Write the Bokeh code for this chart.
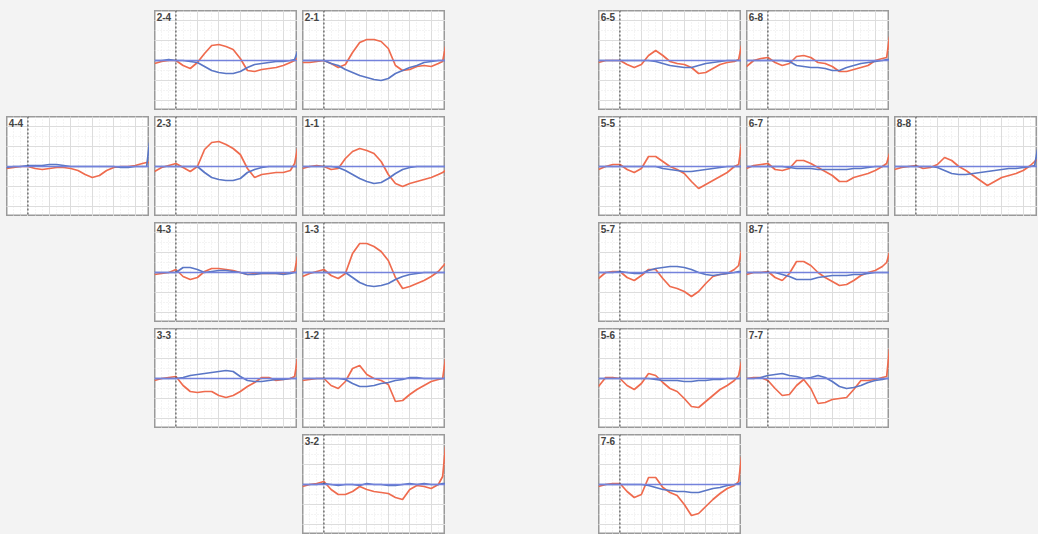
from bokeh.plotting import figure
from bokeh.layouts import row, column
from bokeh.models import Spacer, Span, Label, SingleIntervalTicker, GlobalInlineStyleSheet
from bokeh.embed import file_html
from bokeh.resources import INLINE

# shared sample positions (percent of panel width)
X = [0, 5, 10, 15, 20, 25, 30, 35, 40, 45, 50, 55, 60, 65, 70, 75, 80, 85, 90, 95, 98, 100]

# panel arrangement (None = empty cell)
LAYOUT = [
    [None, "2-4", "2-1", None, "6-5", "6-8"],
    ["4-4", "2-3", "1-1", None, "5-5", "6-7", "8-8"],
    [None, "4-3", "1-3", None, "5-7", "8-7"],
    [None, "3-3", "1-2", None, "5-6", "7-7"],
    [None, None, "3-2", None, "7-6"],
]

red_2_4 = [-3, -1, 0, 0, -5, -8, -2, 7, 15, 16, 14, 11, 2, -10, -11, -9, -8, -7, -5, -2, 0, 2]
blue_2_4 = [0, 0, 1, 0, 0, -1, -2, -6, -10, -12, -13, -13, -11, -7, -4, -3, -2, -1, -1, 0, 1, 9]
red_2_1 = [-2, -2, -1, 0, -3, -7, -4, 8, 18, 21, 21, 19, 12, -5, -10, -9, -6, -5, -6, -3, -1, 14]
blue_2_1 = [0, 0, 0, 0, -3, -5, -9, -12, -15, -17, -19, -20, -18, -13, -10, -7, -5, -2, -1, 0, 0, 0]
red_4_4 = [-2, -1, 0, 0, -2, -3, -2, -1, -1, -2, -4, -8, -11, -9, -4, -1, 0, 0, 1, 3, 4, 4]
blue_4_4 = [-1, 0, 0, 1, 1, 1, 2, 2, 1, 0, 0, 0, 0, 0, 0, 0, -1, -1, 0, 0, 0, 24]
red_2_3 = [-5, -1, 1, 3, -1, -5, 0, 17, 24, 25, 22, 18, 12, -2, -11, -8, -7, -6, -6, -4, 3, 18]
blue_2_3 = [0, 0, 0, 0, 0, 0, 0, -6, -11, -13, -14, -14, -12, -6, -3, -1, 0, 0, 0, 0, 0, 0]
red_1_1 = [-2, 0, 1, 0, -3, -2, 8, 15, 18, 16, 13, 5, -8, -17, -20, -17, -15, -13, -11, -8, -6, -4]
blue_1_1 = [0, 0, 0, 0, 0, -1, -4, -8, -12, -15, -17, -16, -12, -7, -3, -1, 0, 0, 0, 0, 0, 0]
red_4_3 = [-2, -1, 0, 3, -4, -7, -5, 1, 4, 4, 3, 2, 0, -2, -1, -1, -1, -1, -1, 0, 1, 16]
blue_4_3 = [0, 0, 0, 0, 5, 5, 3, 0, 1, 2, 2, 1, 0, -2, -2, -1, -1, -1, -2, -1, 0, 0]
red_1_3 = [-4, -1, 1, 3, -3, -6, -1, 19, 29, 29, 26, 21, 12, -5, -16, -14, -11, -8, -4, 1, 6, 9]
blue_1_3 = [0, 0, 0, 0, 0, 0, 0, -5, -10, -13, -14, -13, -11, -7, -4, -2, -1, 0, 0, 0, 0, 0]
red_3_3 = [-2, 0, 1, 2, -7, -13, -14, -13, -13, -17, -19, -17, -13, -8, -4, 1, 1, -2, -1, 0, 2, 20]
blue_3_3 = [0, 0, 0, 0, 1, 3, 4, 5, 6, 7, 8, 7, 2, -2, -3, -3, -2, -1, -1, 0, 0, 0]
red_1_2 = [-2, -1, 0, 0, -7, -10, -3, 10, 13, 4, 0, -2, -6, -23, -22, -16, -11, -7, -3, -1, 0, 20]
blue_1_2 = [0, 0, 0, 0, 0, 0, -1, -5, -8, -8, -7, -5, -4, -2, -1, 1, 1, 0, 0, 0, 0, 0]
red_3_2 = [-2, 0, 1, 3, -5, -10, -10, -7, -2, -5, -7, -8, -9, -13, -15, -5, -1, -2, -4, 0, 8, 38]
blue_3_2 = [0, 0, 0, 1, 0, -1, 0, 0, -1, 1, 0, 0, -1, -1, 0, 1, 0, 1, 0, 0, 1, 1]
red_6_5 = [-2, 0, 0, 0, -4, -7, -4, 5, 10, 5, -1, -3, -4, -7, -13, -12, -8, -4, -2, -1, 1, 15]
blue_6_5 = [0, 0, 0, 0, 0, 0, 0, 0, -1, -3, -5, -6, -7, -7, -5, -3, -2, -1, 0, 0, 0, 0]
red_6_8 = [-6, 0, 2, 3, -2, -5, -3, 4, 5, 3, -2, -3, -6, -11, -11, -9, -7, -5, 0, 2, 3, 24]
blue_6_8 = [0, 0, 0, 0, 0, 0, -1, -5, -6, -7, -7, -8, -10, -10, -7, -5, -3, -2, -1, 0, 1, 1]
red_5_5 = [-3, 0, 2, 2, -3, -6, -2, 10, 10, 5, 0, -3, -7, -15, -22, -18, -14, -10, -6, 0, 2, 23]
blue_5_5 = [0, 0, 0, 0, 0, 0, 0, 0, 0, -2, -3, -4, -5, -5, -4, -3, -2, -1, 0, 0, 0, 0]
red_6_7 = [-2, 1, 2, 3, -3, -4, -2, 6, 6, 3, -1, -5, -9, -15, -15, -11, -9, -7, -4, 0, 3, 13]
blue_6_7 = [0, 0, 0, 0, 0, 0, -1, -2, -2, -2, -3, -3, -3, -3, -3, -2, -2, -1, 0, 0, 0, 0]
red_8_8 = [-3, -1, 0, 1, -2, -1, 2, 9, 6, 0, -4, -9, -14, -19, -15, -11, -9, -7, -4, 1, 5, 7]
blue_8_8 = [0, 0, 0, 0, 0, 0, -1, -4, -7, -8, -8, -7, -6, -5, -4, -3, -2, -2, -1, 0, 1, 17]
red_5_7 = [-6, 0, 1, 1, -5, -8, -3, 3, 3, -6, -14, -16, -19, -24, -19, -11, -4, -2, -1, 3, 7, 22]
blue_5_7 = [0, 0, 0, 1, 0, -1, -1, 2, 4, 5, 6, 6, 5, 3, 0, -2, -3, -2, -1, 0, 1, 1]
red_8_7 = [-2, 0, 0, 1, -5, -8, -1, 11, 11, 7, 0, -5, -9, -13, -12, -8, -3, 0, 2, 6, 10, 20]
blue_8_7 = [0, 0, 0, 0, 0, -2, -4, -7, -7, -7, -5, -4, -3, -3, -3, -2, -2, -1, 0, 0, 0, 0]
red_5_6 = [-8, 1, 1, 0, -7, -11, -5, 5, 3, -4, -10, -13, -20, -28, -29, -23, -17, -11, -7, -2, 3, 17]
blue_5_6 = [0, 0, 0, 0, 0, 0, 0, 0, -1, -2, -2, -2, -3, -3, -2, -2, -1, -1, 0, 0, 0, 0]
red_7_7 = [0, 1, 1, -2, -10, -17, -16, -7, -1, -10, -25, -24, -21, -20, -19, -11, -2, -2, -1, 1, 2, 30]
blue_7_7 = [0, 0, 1, 3, 4, 5, 3, 2, 0, 1, 3, 1, -3, -8, -10, -9, -7, -4, -2, -1, 0, 0]
red_7_6 = [-2, 0, 1, 1, -7, -13, -10, 7, 7, -3, -8, -11, -20, -31, -29, -22, -15, -9, -4, -1, 3, 28]
blue_7_6 = [0, 0, 0, 0, 0, 0, 0, -1, -3, -5, -6, -7, -7, -8, -8, -6, -4, -3, -1, 0, 1, 2]

SERIES = {
    "2-4": (red_2_4, blue_2_4), "2-1": (red_2_1, blue_2_1), "4-4": (red_4_4, blue_4_4),
    "2-3": (red_2_3, blue_2_3), "1-1": (red_1_1, blue_1_1), "4-3": (red_4_3, blue_4_3),
    "1-3": (red_1_3, blue_1_3), "3-3": (red_3_3, blue_3_3), "1-2": (red_1_2, blue_1_2),
    "3-2": (red_3_2, blue_3_2), "6-5": (red_6_5, blue_6_5), "6-8": (red_6_8, blue_6_8),
    "5-5": (red_5_5, blue_5_5), "6-7": (red_6_7, blue_6_7), "8-8": (red_8_8, blue_8_8),
    "5-7": (red_5_7, blue_5_7), "8-7": (red_8_7, blue_8_7), "5-6": (red_5_6, blue_5_6),
    "7-7": (red_7_7, blue_7_7), "7-6": (red_7_6, blue_7_6),
}

BG = "#f3f3f3"
RED = "#ef6b4e"
BLUE = "#5a76c6"
BASE = "#7482dc"
PW, PH = 143, 100
HGAP, VGAP = 5, 6


def make_panel(label):
    red, blue = SERIES[label]
    p = figure(width=PW, height=PH, x_range=(0, 100), y_range=(-50, 50),
               output_backend="svg", toolbar_location=None, min_border=0,
               x_axis_location=None, y_axis_location=None,
               background_fill_color="white", border_fill_color=BG,
               outline_line_color="#9a9a9a", outline_line_width=2)
    p.xgrid.ticker = SingleIntervalTicker(interval=15, num_minor_ticks=3)
    p.ygrid.ticker = SingleIntervalTicker(interval=20, num_minor_ticks=2)
    p.grid.grid_line_color = "#dddddd"
    p.grid.minor_grid_line_color = "#e8e8e8"
    p.grid.minor_grid_line_dash = "1 2"
    p.add_layout(Span(location=15, dimension="height", line_color="#333333",
                      line_dash="2 2", line_width=1))
    p.add_layout(Span(location=0, dimension="width", line_color=BASE, line_width=1.5))
    p.line(X, red, line_color=RED, line_width=1.7)
    p.line(X, blue, line_color=BLUE, line_width=1.7)
    p.add_layout(Label(x=1.5, y=48, text=label, text_baseline="top", text_align="left",
                       text_font="Liberation Sans", text_font_size="10px",
                       text_font_style="bold", text_color="#444444"))
    return p


rows = [Spacer(width=PW, height=4)]
for r in LAYOUT:
    cells = [Spacer(width=1, height=PH)]
    for lab in r:
        if lab is None:
            cells.append(Spacer(width=PW, height=PH))
        else:
            cells.append(make_panel(lab))
    rows.append(row(cells, spacing=HGAP))

layout = column(rows, spacing=VGAP,
                stylesheets=[GlobalInlineStyleSheet(css="html, body { background-color: #f3f3f3; }")])

open("out.html", "w").write(file_html(layout, INLINE))
